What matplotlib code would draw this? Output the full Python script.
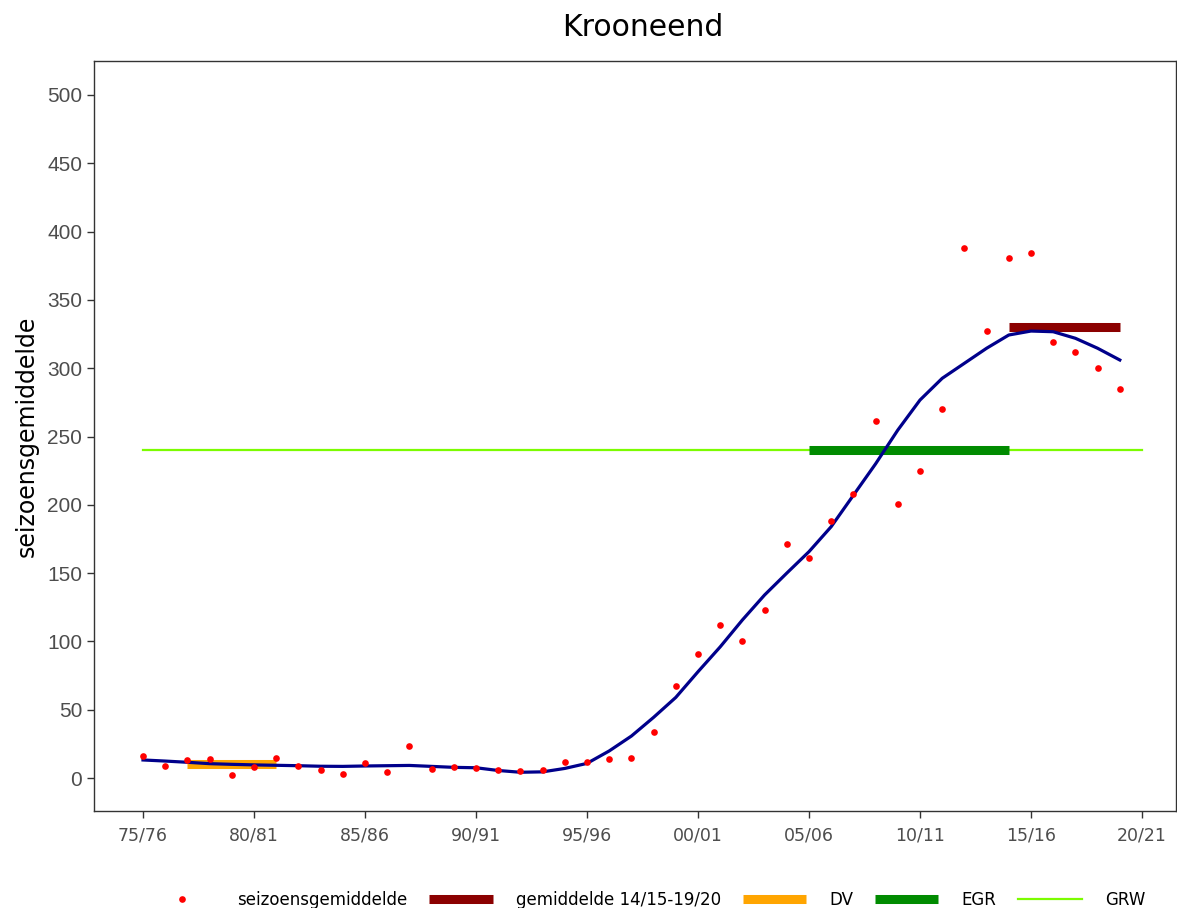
import matplotlib
matplotlib.use("Agg")
import matplotlib.pyplot as plt
from matplotlib.lines import Line2D

seasons_start = list(range(1975, 2020))
seizoensgemiddelde = [16, 9, 13, 14, 2, 8, 14.4, 9, 6, 2.7,
                      10.7, 4.4, 23.4, 6.3, 8, 7.6, 5.9, 5.4, 5.9, 12,
                      11.7, 14.2, 14.6, 34, 67, 90.8, 111.8, 100.3, 123.2, 171.5,
                      161, 187.9, 207.7, 261.4, 200.6, 225, 270.4, 387.8, 327.2, 380.9,
                      384.1, 319.4, 312.1, 300.4, 284.5]
trend = [13.2, 12.4, 11.5, 10.5, 10, 9.6, 9.3, 9, 8.6, 8.5,
         8.8, 9, 9.2, 8.5, 7.8, 7.5, 5.5, 4.2, 4.5, 7,
         10.7, 19.8, 30.7, 44.4, 59, 77.8, 96, 115.7, 134, 150,
         165.7, 184, 207, 230, 254.7, 276.7, 292.6, 303.6, 314.6, 324.3,
         327.2, 326.7, 321.9, 314.6, 306]
gem_years = [2014, 2019]
gem_value = 330
dv_years = [1977, 1981]
dv_value = 10
egr_years = [2005, 2014]
egr_value = 240
grw_years = [1975, 2020]
grw_value = 240
tick_years = list(range(1975, 2021, 5))
tick_labels = ["75/76", "80/81", "85/86", "90/91", "95/96", "00/01", "05/06", "10/11", "15/16", "20/21"]
y_ticks = list(range(0, 501, 50))

fig = plt.figure(figsize=(11.77, 9.08), dpi=100)
ax = fig.add_axes([94/1177, 1-811/908, (1176-94)/1177, (811-61)/908])

ax.plot(grw_years, [grw_value]*2, color="#7CFC00", lw=1.6, zorder=2)
ax.plot(egr_years, [egr_value]*2, color="#008B00", lw=6.5, solid_capstyle="butt", zorder=3)
ax.plot(dv_years, [dv_value]*2, color="#FFA500", lw=6.5, solid_capstyle="butt", zorder=3)
ax.plot(gem_years, [gem_value]*2, color="#8B0000", lw=6.5, solid_capstyle="butt", zorder=3)
ax.plot(seasons_start, trend, color="#00008B", lw=2.3, zorder=4)
ax.plot(seasons_start, seizoensgemiddelde, "o", color="red", ms=4.8, mew=0, zorder=5)

ax.set_xlim(1975 - 49/22.2, 1975 + (1176-143)/22.2)
ax.set_ylim(-33/1.366, 717/1.366)
ax.set_xticks(tick_years)
ax.set_xticklabels(tick_labels, family="DejaVu Sans", fontsize=12.5, color="#4D4D4D")
ax.set_yticks(y_ticks)
ax.set_yticklabels([str(v) for v in y_ticks], family="Liberation Sans", fontsize=15, color="#4D4D4D")
ax.tick_params(axis="both", direction="out", length=5, width=1, color="#333333")
ax.tick_params(axis="x", pad=6)
for s in ax.spines.values():
    s.set_color("#333333")
    s.set_linewidth(1)

ax.set_ylabel("seizoensgemiddelde", family="DejaVu Sans", fontsize=17, labelpad=6)
fig.text(643/1177, 1-28/908, "Krooneend", ha="center", va="center",
         family="DejaVu Sans", fontsize=21.5)

handles = [
    Line2D([], [], marker="o", ls="none", color="red", ms=4.8, mew=0),
    Line2D([], [], color="#8B0000", lw=6.5, solid_capstyle="butt"),
    Line2D([], [], color="#FFA500", lw=6.5, solid_capstyle="butt"),
    Line2D([], [], color="#008B00", lw=6.5, solid_capstyle="butt"),
    Line2D([], [], color="#7CFC00", lw=1.6),
]
labels = ["seizoensgemiddelde", "gemiddelde 14/15-19/20", "DV", "EGR", "GRW"]
fig.legend(handles, labels, loc="center", bbox_to_anchor=(648/1177, 1-900/908),
           ncol=5, frameon=False, prop={"family": "DejaVu Sans", "size": 12},
           handlelength=3.8, handletextpad=1.4, columnspacing=1.3)

fig.savefig("out.png", dpi=100)
